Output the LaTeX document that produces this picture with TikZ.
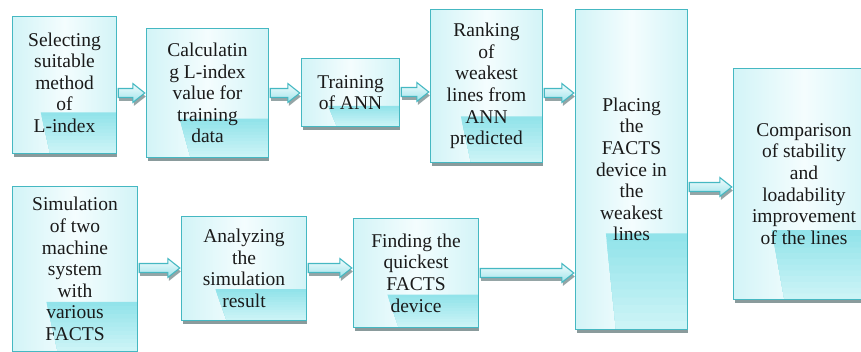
\documentclass[tikz,border=0pt]{standalone}
\usepackage{fontspec}
\setmainfont{Liberation Serif}
\usetikzlibrary{calc,shadows}
\pgfdeclarelayer{background}
\pgfsetlayers{background,main}
\definecolor{bordc}{HTML}{45B8C2}
\definecolor{boxside}{HTML}{D3F4F7}
\definecolor{boxmid}{HTML}{F4FDFE}
\definecolor{bandtop}{HTML}{92E3EA}
\definecolor{bandbot}{HTML}{D3F6F8}
\definecolor{shadowc}{HTML}{8A9B9C}
\definecolor{arrtop}{HTML}{F2FCFD}
\definecolor{arrbot}{HTML}{9FE4EB}
\definecolor{txtc}{HTML}{1A1A1A}
\tikzset{
  box/.style={draw=none, fill=none, align=center, inner sep=0pt, text=txtc,
    font=\fontsize{19.5}{21.6}\selectfont},
  arrbody/.style={draw=bordc, line width=1.1pt, top color=arrtop, bottom color=arrbot, line join=miter,
    drop shadow={shadow xshift=1pt, shadow yshift=-3.5pt, fill=shadowc, opacity=0.9}}
}
\newcommand{\boxdeco}[1]{%
  \begin{pgfonlayer}{background}
  \fill[shadowc] ([shift={(1pt,-4pt)}]#1.south west) rectangle ([shift={(1pt,-4pt)}]#1.north east);
  \shade[left color=boxside, right color=boxside, middle color=boxmid] (#1.south west) rectangle (#1.north east);
  \foreach \i [evaluate=\i as \pc using {int(100-8*\i)}, evaluate=\i as \fr using {0.3-0.3*\i/12}] in {0,...,11}{
    \fill[color=bandtop!\pc!bandbot]
      let \p1=(#1.south west), \p2=(#1.north east) in
      ({\x1+(0.36-0.3*\fr)*(\x2-\x1)},{\y1+\fr*(\y2-\y1)}) -- (\x2,{\y1+\fr*(\y2-\y1)}) -- (\x2,\y1) --
      ({\x1+0.36*(\x2-\x1)},\y1) -- cycle;
  }
  \draw[bordc, line width=1.3pt] (#1.south west) rectangle (#1.north east);
  \end{pgfonlayer}%
}
\newcommand{\blockarr}[3]{%
  \draw[arrbody] let \p1=(#1.east |- 0,#3), \p2=(#2.west |- 0,#3) in
    ({\x1+2pt},{\y1+4.5pt}) -- ({\x2-14pt},{\y1+4.5pt}) -- ({\x2-14pt},{\y1+9.5pt}) --
    ({\x2-2pt},\y1) -- ({\x2-14pt},{\y1-9.5pt}) -- ({\x2-14pt},{\y1-4.5pt}) --
    ({\x1+2pt},{\y1-4.5pt}) -- cycle;
}
\begin{document}
\begin{tikzpicture}[x=1pt,y=-1pt]
\useasboundingbox (0,0) rectangle (861,352);
\node[box, minimum width=103pt, minimum height=136pt] (b1) at (64.5,85) {\raisebox{4pt}{\begin{tabular}{@{}c@{}}Selecting\\suitable\\method\\of\\L-index\end{tabular}}};
\node[box, minimum width=121pt, minimum height=128pt] (b2) at (207.5,93) {Calculatin\\g L-index\\value for\\training\\data};
\node[box, minimum width=97pt, minimum height=67pt] (b3) at (350.5,92.5) {Training\\of ANN};
\node[box, minimum width=111pt, minimum height=152pt] (b4) at (486.5,86) {Ranking\\of\\weakest\\lines from\\ANN\\predicted};
\node[box, minimum width=111pt, minimum height=319pt] (b5) at (631.5,169.5) {Placing\\the\\FACTS\\device in\\the\\weakest\\lines};
\node[box, minimum width=140pt, minimum height=230pt] (b6) at (804,184) {Comparison\\of stability\\and\\loadability\\improvement\\of the lines};
\node[box, minimum width=124pt, minimum height=164pt] (b7) at (75,269) {Simulation\\of two\\machine\\system\\with\\various\\FACTS};
\node[box, minimum width=124pt, minimum height=103pt] (b8) at (244,268.5) {Analyzing\\the\\simulation\\result};
\node[box, minimum width=124pt, minimum height=108pt] (b9) at (416,273) {Finding the\\quickest\\FACTS\\device};
\boxdeco{b1}\boxdeco{b2}\boxdeco{b3}\boxdeco{b4}\boxdeco{b5}\boxdeco{b6}\boxdeco{b7}\boxdeco{b8}\boxdeco{b9}
\blockarr{b1}{b2}{93}
\blockarr{b2}{b3}{93}
\blockarr{b3}{b4}{92}
\blockarr{b4}{b5}{93}
\blockarr{b5}{b6}{187}
\blockarr{b9}{b5}{273}
\blockarr{b7}{b8}{268}
\blockarr{b8}{b9}{268}
\end{tikzpicture}
\end{document}
